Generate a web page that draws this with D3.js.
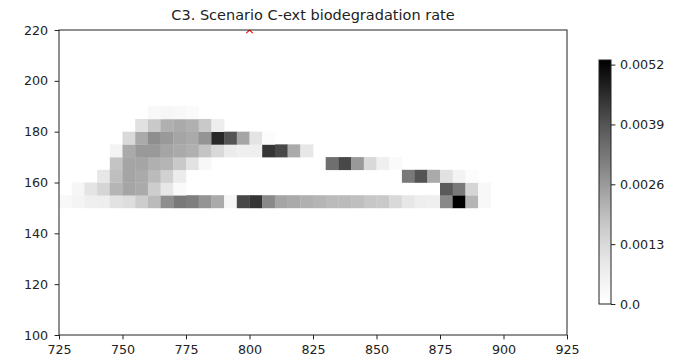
<!DOCTYPE html>
<html><head><meta charset="utf-8">
<script src="https://cdn.jsdelivr.net/npm/d3@7"></script>
<style>body{margin:0;background:#fff;} svg{display:block;font-family:"DejaVu Sans",sans-serif;}</style>
</head><body>
<svg id="c" width="691" height="364"></svg>
<script>
const _ = null;
const title = "C3. Scenario C-ext biodegradation rate";
const xCols = [725,730,735,740,745,750,755,760,765,770,775,780,785,790,795,800,805,810,815,820,825,830,835,840,845,850,855,860,865,870,875,880,885,890];
const cellW = 5, cellH = 5;
const rowYs = [150,155,160,165,170,175,180,185];
const row150 = [0.0003,0.00048,0.00065,0.0007,0.00105,0.0012,0.0016,0.002,0.0028,0.0032,0.0031,0.0027,0.0023,0.0004,0.0041,0.0044,0.0029,0.0024,0.0023,0.0022,0.0021,0.002,0.002,0.0019,0.00175,0.0017,0.0013,0.0009,0.0007,0.00065,0.0029,0.0053,0.0021,0.0003];
const row155 = [_,0.0004,0.001,0.0014,0.0021,0.0024,0.0023,0.0016,0.0009,0.0002,_,_,_,_,_,_,_,_,_,_,_,_,_,_,_,_,_,_,_,_,0.0038,0.0032,0.0014,0.0003];
const row160 = [_,_,_,0.0009,0.0019,0.0024,0.0023,0.002,0.0015,0.00075,_,_,_,_,_,_,_,_,_,_,_,_,_,_,_,_,_,0.0032,0.0039,0.0023,0.0011,0.0005,0.00015,_];
const row165 = [_,_,_,_,0.0018,0.0024,0.0024,0.0022,0.0021,0.0017,0.00105,0.0003,_,_,_,_,_,_,_,_,_,0.0034,0.0041,0.0026,0.0013,0.00065,0.0002,_,_,_,_,_,_,_];
const row170 = [_,_,_,_,0.0005,0.0023,0.0026,0.0026,0.0024,0.0023,0.0022,0.0018,0.0013,0.0008,0.00065,0.00065,0.0044,0.0041,0.0023,0.0009,_,_,_,_,_,_,_,_,_,_,_,_,_,_];
const row175 = [_,_,_,_,_,0.0013,0.0023,0.0028,0.0026,0.0024,0.0023,0.0027,0.0046,0.0039,0.0024,0.001,0.00015,_,_,_,_,_,_,_,_,_,_,_,_,_,_,_,_,_];
const row180 = [_,_,_,_,_,_,0.0011,0.0017,0.0022,0.0023,0.0022,0.0017,0.0007,_,_,_,_,_,_,_,_,_,_,_,_,_,_,_,_,_,_,_,_,_];
const row185 = [_,_,_,_,_,_,_,0.0003,0.0004,0.0003,0.0002,_,_,_,_,_,_,_,_,_,_,_,_,_,_,_,_,_,_,_,_,_,_,_];
const rows = [row150,row155,row160,row165,row170,row175,row180,row185];
const vmax = 0.0053;
const xTicks = [725,750,775,800,825,850,875,900,925];
const yTicks = [100,120,140,160,180,200,220];
const cbTicks = [0,0.0013,0.0026,0.0039,0.0052];
const cbLabels = ["0.0","0.0013","0.0026","0.0039","0.0052"];
const marker = {x:800, y:220};

const svg = d3.select("#c");
const L=59,R=567,T=30,B=335;
const FS = 12.7;
const x = d3.scaleLinear([725,925],[L,R]);
const y = d3.scaleLinear([100,220],[B,T]);
const color = d3.scaleSequential(d3.interpolateGreys).domain([0,vmax]);

const cells = [];
rows.forEach((r,i)=>r.forEach((v,j)=>{ if(v!==null) cells.push({x0:xCols[j], y0:rowYs[i], v}); }));

svg.append("defs").append("clipPath").attr("id","clip").append("rect")
  .attr("x",L).attr("y",T).attr("width",R-L).attr("height",B-T);

const g = svg.append("g").attr("clip-path","url(#clip)");
g.selectAll("rect.cell").data(cells).join("rect").attr("class","cell")
  .attr("x",d=>x(d.x0)).attr("y",d=>y(d.y0+cellH))
  .attr("width",d=>x(d.x0+cellW)-x(d.x0)+0.3).attr("height",d=>y(d.y0)-y(d.y0+cellH)+0.3)
  .attr("fill",d=>color(d.v));

// marker
const ms=3.2;
g.append("path").attr("d",`M${x(marker.x)-ms},${y(marker.y)-ms}L${x(marker.x)+ms},${y(marker.y)+ms}M${x(marker.x)-ms},${y(marker.y)+ms}L${x(marker.x)+ms},${y(marker.y)-ms}`)
  .attr("stroke","red").attr("stroke-width",1.1).attr("fill","none");

// axes
const xa = svg.append("g").attr("transform",`translate(0,${B})`)
  .call(d3.axisBottom(x).tickValues(xTicks).tickSize(4.4).tickPadding(5.5).tickFormat(d3.format("d")));
const ya = svg.append("g").attr("transform",`translate(${L},0)`)
  .call(d3.axisLeft(y).tickValues(yTicks).tickSize(4.4).tickPadding(6.5).tickFormat(d3.format("d")));
[xa,ya].forEach(a=>{a.select(".domain").remove(); a.selectAll("text").attr("font-size",FS).attr("fill","#222").attr("font-family","DejaVu Sans"); a.selectAll("line").attr("stroke","#222");});
svg.append("rect").attr("x",L).attr("y",T).attr("width",R-L).attr("height",B-T)
  .attr("fill","none").attr("stroke","#222").attr("stroke-width",1);

svg.append("text").attr("x",(L+R)/2).attr("y",20).attr("text-anchor","middle")
  .attr("font-size",14.5).attr("fill","#222").text(title);

// colorbar
const cbL=599, cbW=12, cbT=60, cbB=304;
const cy = d3.scaleLinear([0,vmax],[cbB,cbT]);
const grad = svg.select("defs").append("linearGradient").attr("id","cbg")
  .attr("x1",0).attr("y1",1).attr("x2",0).attr("y2",0);
d3.range(0,1.0001,0.05).forEach(t=>grad.append("stop").attr("offset",t).attr("stop-color",color(t*vmax)));
svg.append("rect").attr("x",cbL).attr("y",cbT).attr("width",cbW).attr("height",cbB-cbT)
  .attr("fill","url(#cbg)").attr("stroke","#222").attr("stroke-width",1);
const ca = svg.append("g").attr("transform",`translate(${cbL+cbW},0)`)
  .call(d3.axisRight(cy).tickValues(cbTicks).tickSize(4.4).tickPadding(4.5).tickFormat((d,i)=>cbLabels[i]));
ca.select(".domain").remove();
ca.selectAll("text").attr("font-size",FS).attr("fill","#222").attr("font-family","DejaVu Sans");
ca.selectAll("line").attr("stroke","#222");
</script>
</body></html>
